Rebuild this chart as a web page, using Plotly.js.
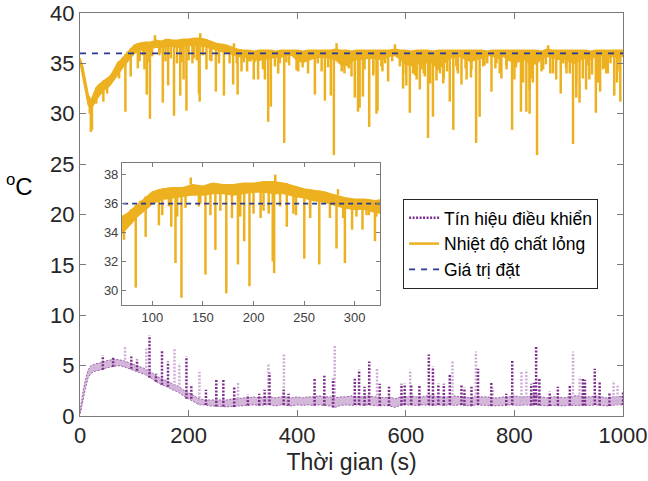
<!DOCTYPE html>
<html><head><meta charset="utf-8">
<script src="https://cdn.plot.ly/plotly-3.0.1.min.js"></script>
<style>html,body{margin:0;padding:0;background:#fff}</style>
</head><body><div id="chart" style="width:648px;height:481px"></div>
<script>
// ---------- Data ----------
// Liquid temperature: envelope of the dense band (upper / lower), deep spikes and medium spikes
const tempT = [0,5,10,15,20,25,30,35,40,45,50,55,60,65,70,75,80,85,90,95,100,
  110,120,130,140,150,160,170,180,190,200,210,220,230,240,250,260,270,280,290,300,
  310,320,330,340,350,360,370,380,390,400,410,420,430,440,450,460,470,480,490,500,
  510,520,530,540,550,560,570,580,590,600,610,620,630,640,650,660,670,680,690,700,
  710,720,730,740,750,760,770,780,790,800,810,820,830,840,850,860,870,880,890,900,
  910,920,930,940,950,960,970,980,990,1000];
const tempHi = [35.5,34.7,33.3,31.9,31.3,31.9,32.6,32.9,33.1,33.3,33.5,33.7,34.1,34.6,35.1,35.3,35.6,35.9,36.2,36.5,36.8,
  37.0,37.1,37.1,37.3,37.2,37.4,37.3,37.3,37.4,37.4,37.5,37.5,37.4,37.2,37.0,36.9,36.8,36.6,36.4,36.3,
  36.3,36.2,36.3,36.3,36.3,36.2,36.3,36.3,36.3,36.3,36.2,36.3,36.3,36.3,36.3,36.3,36.4,36.3,36.3,36.2,
  36.3,36.3,36.3,36.3,36.3,36.3,36.3,36.4,36.3,36.3,36.2,36.3,36.3,36.3,36.2,36.3,36.3,36.3,36.3,36.3,
  36.3,36.3,36.3,36.3,36.2,36.3,36.3,36.3,36.3,36.3,36.3,36.3,36.3,36.3,36.2,36.4,36.3,36.3,36.3,36.3,
  36.3,36.3,36.3,36.2,36.3,36.3,36.3,36.3,36.3,36.3];
const tempLo = [35.1,33.9,32.3,30.9,30.5,30.9,31.4,31.8,32.1,32.4,32.6,32.8,33.1,33.5,33.9,34.3,34.7,35.1,35.4,35.7,36.0,
  36.3,36.4,36.5,36.6,36.6,36.7,36.7,36.6,36.7,36.8,36.8,36.7,36.7,36.5,36.4,36.2,36.1,35.9,35.7,35.6,
  35.6,35.4,35.3,35.4,35.5,35.6,35.6,35.8,35.8,35.3,35.1,35.3,35.5,35.6,35.6,35.5,35.4,34.9,34.8,35.2,
  35.4,35.4,35.5,35.5,35.4,35.5,35.7,35.8,35.4,34.9,34.8,35.0,34.9,35.1,35.0,34.4,35.0,35.5,35.6,35.7,
  35.4,35.2,35.4,35.5,35.8,35.7,35.5,35.7,35.3,35.1,35.2,35.4,34.8,35.0,35.4,35.7,35.6,35.4,35.5,35.2,
  35.0,35.3,35.5,35.4,35.7,35.8,35.4,35.7,35.6,35.7];
const tempSpikeT = [18,20,22,30,43,50,72,83.6,93.4,106.5,118.7,122.9,128.8,138,146,152.5,162.3,173.1,184.6,190.8,196,
  207,215,219,220.4,221.5,232.9,242,250.2,256,265,282,283.5,290.3,297.4,307.7,314,320,
  340.5,346.6,351.5,365,376.1,385,398.8,410,432.6,445,451,462,467.5,472.5,487,495,506,512,515,521,532.6,540,546,548,557,567.5,580,
  595,600,607.4,617,625.8,633,641,645,650,656.5,670,681,687.5,695,702.5,710,720,729.5,736,745,757.8,765,776,785,795.7,
  803,812,822,828,832,841.7,850,862,866,885.3,895,902,908,914,920,926,935,943,950,957.8,965,972,983.9,990,995];
const tempSpikeV = [30.0,28.2,28.4,31.0,31.2,32.0,33.5,30.2,33.7,34.5,34.4,31.9,29.5,37.8,35.8,31.1,32.8,29.8,31.8,33.4,30.3,
  35.0,35.3,32.0,31.2,38.0,34.4,35.2,32.2,35.0,31.8,32.9,37.0,31.9,34.2,34.2,35.2,33.4,
  33.4,29.2,30.7,34.0,27.1,34.8,34.3,34.6,31.9,34.2,31.3,31.8,25.9,37.0,34.0,34.5,31.6,30.2,30.6,31.7,28.7,33.8,30.0,30.3,34.2,33.2,36.9,
  32.5,34.0,30.1,33.8,32.4,34.0,27.6,33.0,29.7,33.3,33.5,31.2,28.4,34.3,32.9,34.5,33.6,27.1,29.7,34.8,32.2,34.5,33.5,34.8,28.4,
  34.6,30.2,30.2,30.0,33.5,25.9,34.2,36.8,34.0,32.0,34.5,34.0,27.0,33.0,31.1,33.5,34.8,33.9,30.1,32.2,34.5,34.0,31.8,34.2,31.2];
const tempMidT = [79,88,109.8,116.4,124.6,132.8,147.5,157.4,167.2,178.7,186.9,200,209.9,226.3,239.4,255.8,275.5,288.6,301.7,311.6,321.4,
  328,337,359,368,380,402,420,438,457,482,494,500,524,540,555,562,575,589,601,613.5,620,629,635,
  663,669,676,693,696,712,721,742.5,750,767,773,785.6,800,816,828,834,853,858,871,877,890,896,914,932,938,954,963,969,977,988.8];
const tempMidV = [35.3,35.3,35.2,35.8,35.1,35.7,36.0,35.2,35.5,35.0,35.1,35.3,35.5,35.8,35.3,35.7,35.0,35.0,35.1,35.2,35.1,
  33.4,34.4,34.7,35.0,35.1,34.2,34.0,35.0,34.6,34.2,34.7,33.7,34.4,34.0,34.7,35.0,35.2,34.7,32.8,34.0,33.4,34.4,33.7,
  34.0,33.0,34.2,34.7,34.0,33.4,34.4,34.7,35.0,35.0,34.0,34.4,33.4,33.1,32.4,33.1,34.4,34.9,34.0,33.4,35.0,34.0,31.6,32.4,33.4,33.1,34.4,34.0,35.0,33.1];

// Set point
const setT = [0, 1000];
const setV = [36, 36];

// Control signal: envelope of the dense dotted band and its spikes
const ctlT = [0,3,6,10,15,20,25,30,40,50,60,70,80,90,100,110,120,130,140,150,160,170,180,190,200,
  210,220,230,240,250,260,270,280,290,300,310,320,330,340,350,360,370,380,390,400,
  410,420,430,440,450,460,470,480,490,500,510,520,530,540,550,560,570,580,590,600,
  610,620,630,640,650,660,670,680,690,700,710,720,730,740,750,760,770,780,790,800,
  810,820,830,840,850,860,870,880,890,900,910,920,930,940,950,960,970,980,990,1000];
const ctlHi = [0.5,1.6,2.6,3.6,4.6,5.0,5.1,5.2,5.3,5.5,5.6,5.6,5.5,5.3,5.1,4.9,4.7,4.4,4.0,3.7,3.5,3.2,3.0,2.6,2.3,
  2.0,1.7,1.6,1.6,1.6,1.6,1.6,1.7,1.7,1.8,1.8,1.9,1.8,1.9,1.9,1.8,1.9,1.9,1.8,1.9,
  1.8,1.9,1.9,2.0,1.9,1.9,1.8,1.9,1.9,2.0,1.9,1.9,2.0,1.9,1.9,1.8,1.9,1.7,1.9,1.9,
  2.0,1.9,1.9,2.0,2.0,1.9,1.9,1.9,2.0,1.9,1.9,1.8,2.0,1.9,1.9,1.8,1.8,1.9,1.9,2.0,
  1.9,1.9,2.0,2.1,1.9,1.8,1.9,1.9,1.8,1.9,2.0,2.0,1.9,1.9,2.0,1.9,1.8,1.9,1.9,2.0];
const ctlLo = [0.1,0.6,1.5,2.7,3.8,4.2,4.4,4.5,4.6,4.8,4.9,5.0,4.9,4.7,4.5,4.3,4.1,3.8,3.4,3.1,2.9,2.6,2.4,2.0,1.7,
  1.4,1.1,1.1,1.0,0.95,0.95,0.9,0.9,1.0,1.05,1.05,1.1,1.05,1.1,1.1,1.0,1.1,1.05,1.0,1.1,
  1.05,1.1,1.05,1.1,1.05,1.0,0.85,1.05,1.1,1.05,1.1,1.05,1.1,1.05,1.0,1.05,1.0,0.85,1.05,1.1,
  1.1,1.05,1.1,1.1,1.05,1.1,1.05,1.1,1.05,1.1,1.05,1.0,1.1,1.05,1.05,1.0,1.0,1.05,1.1,1.1,
  1.05,1.1,1.05,1.1,1.05,1.0,1.05,1.05,1.0,1.05,1.1,1.1,1.05,1.05,1.1,1.05,1.0,1.05,1.1,1.1];
const ctlSpikeT = [42,61,94.5,105,128,140,151,162,196,205,232,251,264,284,309,330,340,349,375,384,432,450,466,
  506,514,524,532.6,552,569,592,598,610,625,642.4,650,660,670,681,702.5,708,721,733,757.5,785,796,
  831,836,840,846,865,880,902,926,930,948,957,975,1000];
const ctlSpikeV = [6.0,5.9,5.9,5.6,8.0,4.2,6.5,5.4,5.9,3.1,2.6,3.6,3.6,2.9,2.1,2.2,2.6,4.3,2.6,2.2,3.7,4.0,3.7,
  3.7,4.6,2.9,5.4,3.2,2.9,3.2,3.2,3.1,3.0,6.1,4.9,3.2,3.2,4.2,3.1,2.8,2.9,4.7,3.4,2.2,5.5,
  3.2,3.3,7.0,3.7,2.4,2.9,3.1,3.7,3.6,4.7,3.4,2.3,2.4];
const ctlFaintT = [83,122,174,183,220,291,347,375.5,469,547,608,686,729,760,813,822,908,920,982.7,990];
const ctlFaintV = [6.9,6.7,6.7,5.2,4.4,3.4,5.1,6.2,7.0,4.7,4.6,5.5,6.4,2.8,4.4,4.6,6.4,3.9,3.5,3.0];

// Ticks
const xTicks = [0,200,400,600,800,1000];
const yTicks = [0,5,10,15,20,25,30,35,40];
const xTicksInset = [100,150,200,250,300];
const yTicksInset = [30,32,34,36,38];

// ---------- Helpers ----------
function nearest(T, t){ let b=0; for(let i=1;i<T.length;i++){ if(Math.abs(T[i]-t)<Math.abs(T[b]-t)) b=i; } return b; }
function band(T, hi, lo){ return {x: T.concat(T.slice().reverse()), y: hi.concat(lo.slice().reverse())}; }
function segs(T, base, sT, sV){ const x=[], y=[]; sT.forEach((t,i)=>{ const j=nearest(T,t); x.push(t,t,null); y.push(base[j], sV[i], null); }); return {x, y}; }

const YEL = '#EDB120', PUR = '#7E2F8E', NAVY = '#2b3990';
const tBand = band(tempT, tempHi, tempLo);
const tSeg = segs(tempT, tempHi, tempSpikeT, tempSpikeV);
const tMid = segs(tempT, tempHi, tempMidT, tempMidV);
const cBand = band(ctlT, ctlHi, ctlLo);
const cSeg = segs(ctlT, ctlLo, ctlSpikeT, ctlSpikeV);
const cFaint = segs(ctlT, ctlLo, ctlFaintT, ctlFaintV);

function tempTraces(xa, ya, legend){
  return [
    {x: tBand.x, y: tBand.y, xaxis:xa, yaxis:ya, type:'scatter', mode:'lines', fill:'toself', fillcolor:YEL, line:{width:1.5, color:YEL}, showlegend:false, hoverinfo:'skip'},
    {x: tMid.x, y: tMid.y, xaxis:xa, yaxis:ya, type:'scatter', mode:'lines', line:{width:2.5, color:YEL}, showlegend:false, hoverinfo:'skip'},
    Object.assign({x: tSeg.x, y: tSeg.y, xaxis:xa, yaxis:ya, type:'scatter', mode:'lines', line:{width:2.5, color:YEL}}, legend ? {name:'Nhiệt độ chất lỏng'} : {showlegend:false})
  ];
}

const traces = [
  {x: cBand.x, y: cBand.y, type:'scatter', mode:'lines', fill:'toself', fillcolor:'rgba(150,85,165,0.42)', line:{width:1, color:'rgba(126,47,142,0.7)', dash:'2px,1.5px'}, showlegend:false, hoverinfo:'skip'},
  {x: cFaint.x, y: cFaint.y, type:'scatter', mode:'lines', line:{width:2.5, color:'#cfadd8', dash:'2px,1.5px'}, showlegend:false, hoverinfo:'skip'},
  {x: cSeg.x, y: cSeg.y, type:'scatter', mode:'lines', name:'Tín hiệu điều khiển', line:{width:2.5, color:PUR, dash:'2px,1.5px'}},
  ...tempTraces('x','y',true),
  {x: setT, y: setV, type:'scatter', mode:'lines', name:'Giá trị đặt', line:{width:1.8, color:NAVY, dash:'6px,6px'}},
  ...tempTraces('x2','y2',false),
  {x: setT, y: setV, xaxis:'x2', yaxis:'y2', type:'scatter', mode:'lines', line:{width:1.8, color:NAVY, dash:'5px,4px'}, showlegend:false}
];

const axBase = {showline:true, linecolor:'#7a7a7a', linewidth:1, mirror:'allticks', ticks:'inside', tickcolor:'#7a7a7a', showgrid:false, zeroline:false, fixedrange:true};
const layout = {
  width:648, height:481,
  margin:{l:80, r:25, t:13, b:65, pad:0},
  paper_bgcolor:'#fff', plot_bgcolor:'#fff',
  font:{family:'"Liberation Sans", Arial, sans-serif', color:'#262626'},
  showlegend:true,
  legend:{x:0.595, y:0.5385, xanchor:'left', yanchor:'top', bgcolor:'#fff', bordercolor:'#262626', borderwidth:1, font:{size:17.5, color:'#000'}, itemwidth:30, tracegroupgap:0},
  xaxis: Object.assign({}, axBase, {domain:[0,1], range:[0,1000], tickmode:'array', tickvals:xTicks, ticklen:6, tickfont:{size:22, color:'#262626'}, title:{text:'Thời gian (s)', font:{size:23, color:'#262626'}, standoff:6}}),
  yaxis: Object.assign({}, axBase, {domain:[0,1], range:[0,40], tickmode:'array', tickvals:yTicks, ticklen:6, tickfont:{size:22, color:'#262626'}}),
  xaxis2: Object.assign({}, axBase, {domain:[0.0773,0.5525], anchor:'y2', range:[70,325], tickmode:'array', tickvals:xTicksInset, ticklen:4, tickfont:{size:13, color:'#404040'}}),
  yaxis2: Object.assign({}, axBase, {domain:[0.2754,0.6278], anchor:'x2', range:[29,38.8], tickmode:'array', tickvals:yTicksInset, ticklen:4, tickfont:{size:13, color:'#404040'}}),
  annotations:[{text:'<sup>o</sup>C', xref:'paper', yref:'paper', x:-0.1105, y:0.573, xanchor:'center', yanchor:'middle', showarrow:false, font:{size:24, color:'#000'}}]
};
Plotly.newPlot('chart', traces, layout, {displayModeBar:false, staticPlot:true});
</script></body></html>
